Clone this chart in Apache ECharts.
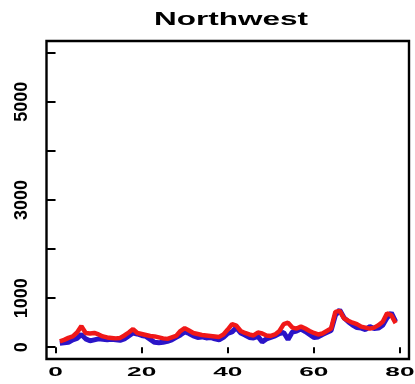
<!DOCTYPE html>
<html>
<head>
<meta charset="utf-8">
<script src="https://cdn.jsdelivr.net/npm/echarts@6/dist/echarts.min.js"></script>
<style>
  html, body { margin: 0; padding: 0; background: #fff; }
  #chart { width: 415px; height: 384px; }
</style>
</head>
<body>
<div id="chart"></div>
<script>
// Panel title
const panelTitle = 'Northwest';

// Red series (upper trace), months 1..79
const redValues = [
  120, 150, 190, 220, 300, 430, 290, 280, 290, 260,
  220, 200, 190, 180, 190, 240, 300, 370, 290, 270,
  250, 230, 220, 200, 180, 170, 200, 230, 330, 390,
  340, 290, 270, 250, 240, 230, 220, 210, 260, 360,
  470, 440, 330, 290, 260, 240, 300, 280, 240, 230,
  260, 330, 470, 500, 400, 380, 420, 380, 330, 290,
  260, 280, 330, 380, 720, 740, 590, 540, 500, 470,
  420, 400, 380, 400, 450, 520, 690, 650, 490
];

// Blue series (lower trace), months 1..79
const blueValues = [
  80, 90, 100, 150, 180, 260, 170, 130, 150, 170,
  160, 150, 160, 150, 140, 170, 230, 290, 270, 240,
  220, 160, 100, 90, 100, 120, 150, 200, 250, 310,
  280, 230, 200, 210, 190, 200, 170, 150, 200, 280,
  310, 400, 290, 250, 200, 190, 220, 110, 170, 200,
  230, 280, 300, 160, 310, 330, 370, 320, 260, 200,
  210, 260, 300, 340, 650, 760, 600, 520, 450, 400,
  390, 360, 420, 380, 390, 450, 600, 700, 520
];

// Axis ticks and labels
const xTicks = [0, 20, 40, 60, 80];
const yTicks = [0, 1000, 2000, 3000, 4000, 5000, 6000];
const yLabels = [0, 1000, 3000, 5000];

const toPairs = vals => vals.map((v, i) => [i + 1, v]);

const chart = echarts.init(document.getElementById('chart'), null, { renderer: 'canvas' });

const option = {
  backgroundColor: '#ffffff',
  animation: false,
  grid: {
    left: 46.5, right: 6, top: 41, bottom: 25,
    show: true, borderColor: '#000', borderWidth: 2.4, backgroundColor: 'transparent'
  },
  xAxis: {
    type: 'value',
    min: -2.1, max: 82.1,
    splitLine: { show: false },
    axisLine: { show: false },
    axisTick: {
      show: true, customValues: xTicks, length: 6, inside: false,
      lineStyle: { color: '#000', width: 2 }
    },
    axisLabel: { show: false }
  },
  yAxis: {
    type: 'value',
    min: -240, max: 6240,
    splitLine: { show: false },
    axisLine: { show: false },
    axisTick: {
      show: true, customValues: yTicks, length: 9, inside: false,
      lineStyle: { color: '#000', width: 2 }
    },
    axisLabel: {
      show: true, customValues: yLabels, rotate: 90, margin: 15,
      formatter: v => String(v),
      color: '#000', fontSize: 18, fontWeight: 'bold',
      fontFamily: 'Liberation Sans, Arial, sans-serif'
    }
  },
  series: [
    {
      type: 'line', data: toPairs(blueValues), showSymbol: false,
      lineStyle: { color: '#2a14c8', width: 5 }, z: 2
    },
    {
      type: 'line', data: toPairs(redValues), showSymbol: false,
      lineStyle: { color: '#f01818', width: 4.5 }, z: 3
    }
  ]
};

chart.setOption(option);

// Wide horizontal text: title and x tick labels, placed with the axis scale
const wideFont = 'Liberation Sans, Arial, sans-serif';
const graphics = [{
  type: 'text',
  x: 231, y: 20,
  scaleX: 1.75,
  style: {
    text: panelTitle,
    font: 'bold 18px ' + wideFont,
    fill: '#000',
    textAlign: 'center',
    textVerticalAlign: 'middle'
  }
}];
xTicks.forEach(v => {
  const px = chart.convertToPixel({ xAxisIndex: 0 }, v);
  graphics.push({
    type: 'text',
    x: px, y: 372.5,
    scaleX: 2.1,
    style: {
      text: String(v),
      font: 'bold 12.5px ' + wideFont,
      fill: '#000',
      textAlign: 'center',
      textVerticalAlign: 'middle'
    }
  });
});
chart.setOption({ graphic: graphics });
</script>
</body>
</html>
